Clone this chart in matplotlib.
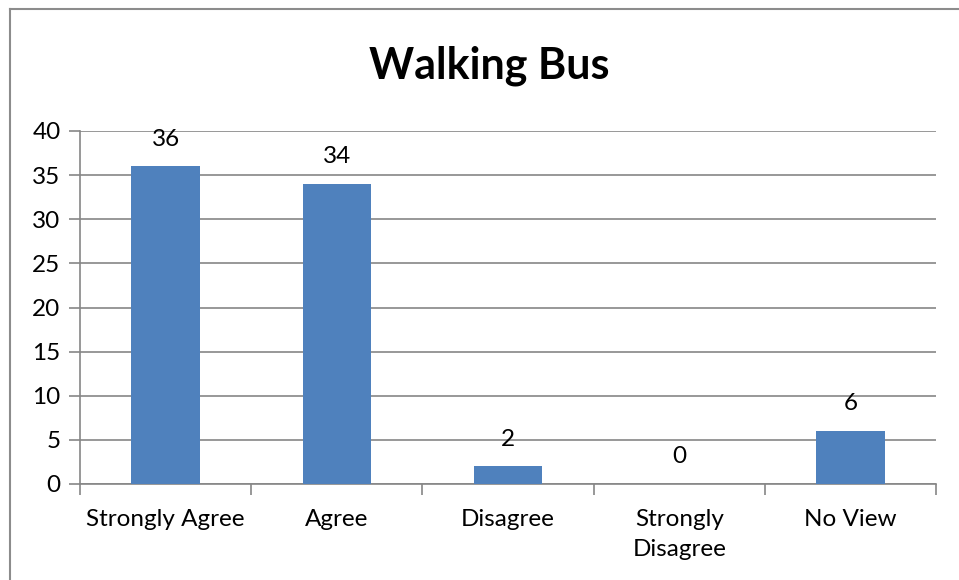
import matplotlib
matplotlib.use("Agg")
import matplotlib.pyplot as plt
from matplotlib.lines import Line2D

categories = ["Strongly Agree", "Agree", "Disagree", "Strongly\nDisagree", "No View"]
counts = [36, 34, 2, 0, 6]
y_ticks = [0, 5, 10, 15, 20, 25, 30, 35, 40]

BAR_COLOR = "#4F81BD"
GRID_COLOR = "#868686"

plt.rcParams["font.family"] = ["Lato", "DejaVu Sans"]

fig = plt.figure(figsize=(9.59, 5.80), dpi=100, facecolor="white")
ax = fig.add_axes([80 / 959, 1 - 484 / 580, (936 - 80) / 959, (484 - 131) / 580])

x = range(len(categories))
ax.bar(x, counts, width=0.4, color=BAR_COLOR, zorder=3)

for xi, v in zip(x, counts):
    ax.annotate(str(v), xy=(xi, v), xytext=(0, 12), textcoords="offset points",
                ha="center", va="bottom", fontsize=17.5, color="black")

ax.set_xlim(-0.5, len(categories) - 0.5)
ax.set_ylim(0, 40)
ax.set_yticks(y_ticks)
ax.set_yticklabels([str(t) for t in y_ticks], fontsize=17.5)

# category labels without tick marks, tick marks at boundaries
ax.set_xticks(list(x))
ax.set_xticklabels(categories, fontsize=17.5, va="top", linespacing=1.55)
ax.tick_params(axis="x", length=0, pad=18)
ax.set_xticks([i - 0.5 for i in range(len(categories) + 1)], minor=True)
ax.tick_params(axis="x", which="minor", length=8, width=1.2, color=GRID_COLOR, direction="out")
ax.tick_params(axis="y", length=8, width=1.2, color=GRID_COLOR, pad=6)

ax.yaxis.grid(True, color=GRID_COLOR, linewidth=1.2, zorder=0)
ax.set_axisbelow(True)
for side in ("top", "right"):
    ax.spines[side].set_visible(False)
for side in ("left", "bottom"):
    ax.spines[side].set_color(GRID_COLOR)
    ax.spines[side].set_linewidth(1.2)

fig.text(489 / 959, 1 - 66 / 580, "Walking Bus", ha="center", va="center",
         fontsize=31, fontweight="bold")

# outer chart border (left and top visible)
fig.add_artist(Line2D([10 / 959, 10 / 959], [0, 1 - 9 / 580], color="#8c8c8c", lw=1.5,
                      transform=fig.transFigure))
fig.add_artist(Line2D([10 / 959, 1], [1 - 9 / 580, 1 - 9 / 580], color="#8c8c8c", lw=1.5,
                      transform=fig.transFigure))

fig.savefig("out.png", dpi=100, facecolor="white")
